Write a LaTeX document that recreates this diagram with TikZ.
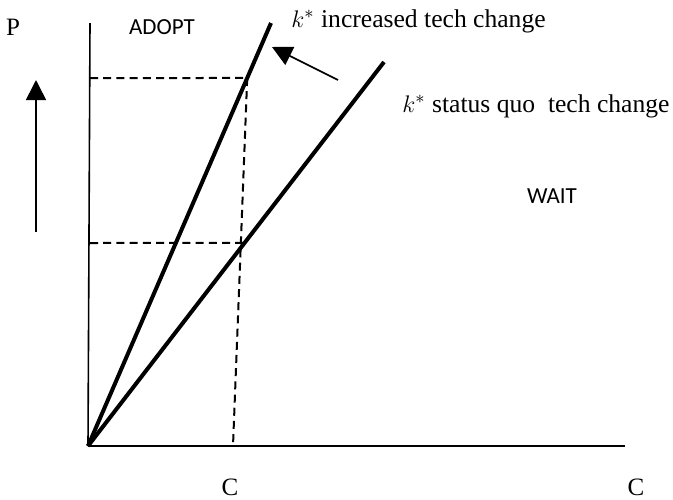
\documentclass[tikz,border=0pt]{standalone}
\usepackage{fontspec}
\setmainfont{Liberation Serif}
\newfontfamily\carlito{Carlito}
\usepackage{tikz}
\usetikzlibrary{calc,arrows.meta}
\definecolor{ink}{HTML}{000000}
\tikzset{
  axis/.style={draw=ink, line width=0.8pt},
  kline/.style={draw=ink, line width=2pt, line cap=butt},
  help/.style={draw=ink, line width=1pt, dash pattern=on 4pt off 2.6pt},
  pointer/.style={draw=ink, line width=0.8pt, -{Triangle[length=10pt, width=10pt]}},
  lab/.style={text=ink, font=\fontsize{12.8}{14}\selectfont, inner sep=0pt},
  labr/.style={text=ink, font=\fontsize{12.5}{14}\selectfont, inner sep=0pt},
  zone/.style={text=ink, font=\carlito\fontsize{11.5}{13}\selectfont, inner sep=0pt},
}
\begin{document}
\begin{tikzpicture}[x=0.5pt, y=-0.5pt]
  \useasboundingbox (0,0) rectangle (673,499);
  \coordinate (O) at (88,446);
  \coordinate (ytop) at (90,23);
  \coordinate (xend) at (625,446);
  \coordinate (kinc) at (271,23);
  \coordinate (ksq) at (384,62);

  % axes
  \draw[axis] (O) -- (ytop);
  \draw[axis] (O) -- (xend);

  % the two thresholds
  \draw[kline] (O) -- (kinc);
  \draw[kline] (O) -- (ksq);

  % dashed guides
  \coordinate (hi) at (90,78);
  \coordinate (hiK) at ($(O)!0.87!(kinc)$);
  \coordinate (lo) at (90,243);
  \coordinate (loK) at ($(O)!0.529!(ksq)$);
  \coordinate (cfoot) at (233,446);
  \draw[help] (hi) -- (hiK);
  \draw[help] (lo) -- (loK);
  \draw[help] (hiK) -- (cfoot);

  % arrows
  \coordinate (atail) at (338,80);
  \coordinate (atip) at (272,47);
  \draw[pointer] (atail) -- (atip);
  \coordinate (ubot) at (36,232);
  \coordinate (utop) at (36,80);
  \draw[pointer] (ubot) -- (utop);

  % labels
  \node[labr] (P) at (13,27) {P};
  \node[zone] (adopt) at (162,27) {ADOPT};
  \node[zone] (wait) at (552,196) {WAIT};
  \node[lab, anchor=west] (kinclab) at (291,21) {$k^*$ increased tech change};
  \node[lab, anchor=west] (ksqlab) at (402,106) {$k^*$ status quo\ \ tech change};
  \node[labr] (c1) at (230,487) {C};
  \node[labr] (c2) at (636,487) {C};
\end{tikzpicture}
\end{document}
